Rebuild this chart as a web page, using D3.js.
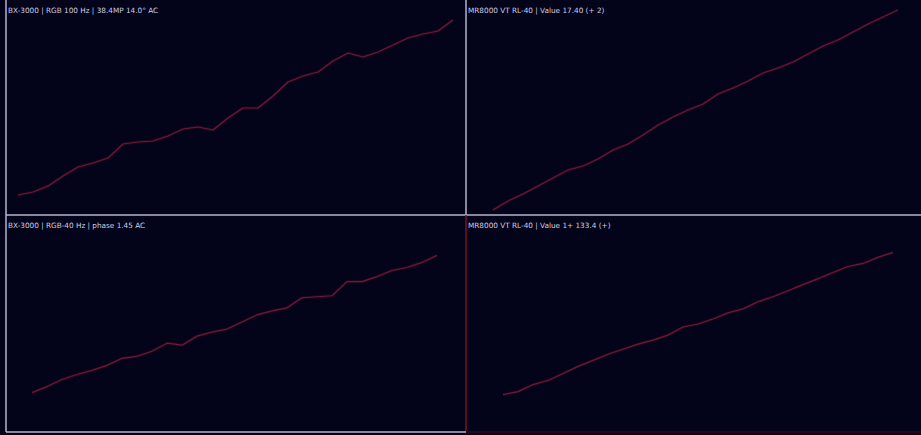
<!DOCTYPE html>
<html>
<head>
<meta charset="utf-8">
<script src="https://cdn.jsdelivr.net/npm/d3@7/dist/d3.min.js"></script>
<style>
  html, body { margin: 0; padding: 0; background: #03031a; }
  svg { display: block; }
</style>
</head>
<body>
<svg id="chart" width="921" height="435"></svg>
<script>
// Panel titles
const titles = [
  "BX-3000 | RGB 100 Hz | 38.4MP 14.0° AC",
  "MR8000 VT RL-40 | Value 17.40 (+ 2)",
  "BX-3000 | RGB-40 Hz | phase 1.45 AC",
  "MR8000 VT RL-40 | Value 1+ 133.4 (+)"
];

// Series values, one per panel (evenly spaced samples)
const seriesA = [20, 23, 29, 39, 48, 52, 57, 71, 73, 74, 79, 86, 88, 85, 97, 107, 107, 119, 133, 139, 143, 154, 162, 158, 163, 170, 177, 181, 184, 195];
const seriesB = [5, 14, 21, 29, 37, 45, 49, 56, 65, 71, 80, 90, 98, 105, 111, 121, 127, 134, 142, 147, 153, 161, 169, 175, 183, 191, 198, 205];
const seriesC = [39, 45, 52, 57, 61, 66, 73, 75, 80, 88, 86, 95, 99, 102, 109, 116, 120, 123, 133, 134, 135, 149, 149, 154, 160, 163, 168, 175];
const seriesD = [37, 40, 47, 51, 58, 65, 71, 77, 82, 87, 91, 96, 104, 107, 112, 118, 122, 129, 134, 140, 146, 152, 158, 164, 167, 173, 178];

const valueDomain = [0, 215];

const W = 921, H = 435;
const gridLeft = 6, gridMidX = 466, gridMidY = 215, gridBottom = 432, gridRight = 921;

const panels = [
  { title: titles[0], data: seriesA, x0: gridLeft, x1: gridMidX, y0: 0, y1: gridMidY, padL: 12, padR: 13 },
  { title: titles[1], data: seriesB, x0: gridMidX, x1: gridRight, y0: 0, y1: gridMidY, padL: 27, padR: 23 },
  { title: titles[2], data: seriesC, x0: gridLeft, x1: gridMidX, y0: gridMidY, y1: gridBottom, padL: 26, padR: 29 },
  { title: titles[3], data: seriesD, x0: gridMidX, x1: gridRight, y0: gridMidY, y1: gridBottom, padL: 37, padR: 28 }
];

const svg = d3.select("#chart");
svg.append("rect").attr("width", W).attr("height", H).attr("fill", "#03031a");

panels.forEach(p => {
  const g = svg.append("g");
  const x = d3.scaleLinear()
    .domain([0, p.data.length - 1])
    .range([p.x0 + p.padL, p.x1 - p.padR]);
  const y = d3.scaleLinear()
    .domain(valueDomain)
    .range([p.y1, p.y1 - (p.y1 - p.y0)]);

  const line = d3.line()
    .x((d, i) => x(i))
    .y(d => y(d));

  // faint halo under the trace
  g.append("path")
    .datum(p.data)
    .attr("d", line)
    .attr("fill", "none")
    .attr("stroke", "#3c0a24")
    .attr("stroke-width", 3)
    .attr("stroke-opacity", 0.5)
    .attr("stroke-linejoin", "round");

  g.append("path")
    .datum(p.data)
    .attr("d", line)
    .attr("fill", "none")
    .attr("stroke", "#6e1934")
    .attr("stroke-width", 1.2)
    .attr("stroke-linejoin", "round");

  g.append("text")
    .attr("x", p.x0 + 2)
    .attr("y", p.y0 + 13)
    .attr("font-family", "DejaVu Sans, sans-serif")
    .attr("font-size", 7.3)
    .attr("fill", "#cfcfe2")
    .text(p.title);
});

// Frame and dividers
const light = "#b4b4cc", red = "#7e1026";
const frame = [
  { x1: gridLeft, y1: 0, x2: gridLeft, y2: gridBottom, c: light },
  { x1: gridLeft, y1: gridMidY, x2: gridRight, y2: gridMidY, c: light },
  { x1: gridMidX, y1: 0, x2: gridMidX, y2: gridMidY, c: light },
  { x1: gridMidX, y1: gridMidY, x2: gridMidX, y2: gridBottom, c: red },
  { x1: gridLeft, y1: gridBottom, x2: gridMidX, y2: gridBottom, c: light },
  { x1: gridMidX, y1: gridBottom, x2: gridRight, y2: gridBottom, c: "#3a0a1e" }
];
svg.append("g").selectAll("line").data(frame).join("line")
  .attr("x1", d => d.x1).attr("y1", d => d.y1)
  .attr("x2", d => d.x2).attr("y2", d => d.y2)
  .attr("stroke", d => d.c)
  .attr("stroke-width", 1.5);
</script>
</body>
</html>
